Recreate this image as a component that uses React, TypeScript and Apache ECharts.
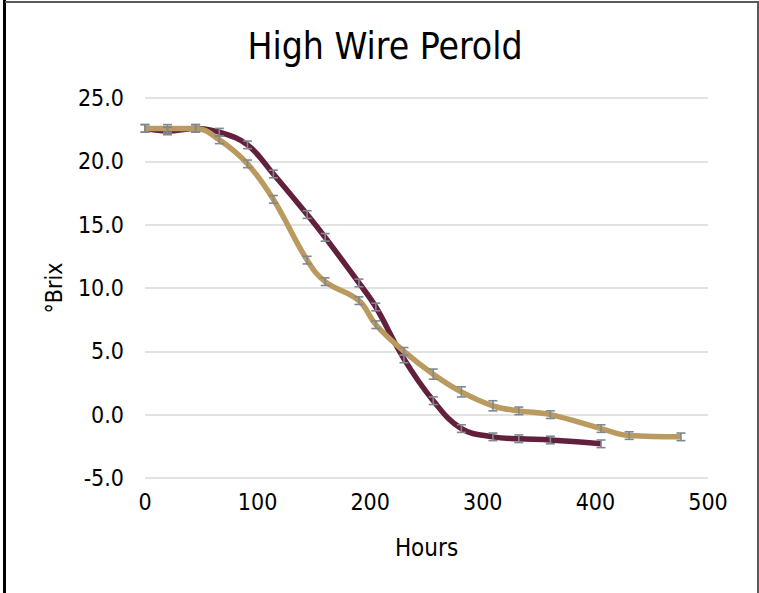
import React, { useEffect, useRef } from "react";
import * as echarts from "echarts";

const hoursA = [0, 20, 45, 66, 91, 114, 144, 160, 190, 205, 230, 256, 281, 309, 332, 360, 405];
const brixA = [22.6, 22.4, 22.6, 22.3, 21.3, 19.0, 15.8, 14.0, 10.4, 8.5, 4.4, 1.1, -1.1, -1.75, -1.9, -2.0, -2.3];
const errA = [0.3, 0.3, 0.3, 0.3, 0.3, 0.3, 0.3, 0.3, 0.3, 0.3, 0.3, 0.3, 0.3, 0.3, 0.3, 0.3, 0.3];

const hoursB = [0, 20, 45, 66, 91, 114, 144, 160, 190, 205, 230, 256, 281, 309, 332, 360, 405, 430, 476];
const brixB = [22.6, 22.6, 22.6, 21.7, 19.8, 17.0, 12.2, 10.5, 9.0, 7.1, 5.0, 3.2, 1.8, 0.7, 0.3, 0.0, -1.1, -1.65, -1.75];
const errB = [0.3, 0.3, 0.3, 0.3, 0.3, 0.3, 0.3, 0.3, 0.3, 0.3, 0.3, 0.4, 0.4, 0.4, 0.3, 0.3, 0.3, 0.3, 0.3];

const xTicks = [0, 500, 100];
const yTicks = [-5, 25, 5];

const titleText = "High Wire Perold";
const xName = "Hours";
const yName = "°Brix";
const seriesNames = ["Series A", "Series B"];
const colors = ["#62203C", "#BA9A5E"];
const errColor = "#7F8890";

export default function App() {
  const ref = useRef<HTMLDivElement>(null);
  useEffect(() => {
    document.body.style.margin = "0";
    const chart = echarts.init(ref.current!, null, { renderer: "svg" });
    const dataA = hoursA.map((h, i) => [h, brixA[i]]);
    const dataB = hoursB.map((h, i) => [h, brixB[i]]);
    const errDataA = hoursA.map((h, i) => [h, brixA[i] - errA[i], brixA[i] + errA[i]]);
    const errDataB = hoursB.map((h, i) => [h, brixB[i] - errB[i], brixB[i] + errB[i]]);
    const renderErr = (params: any, api: any) => {
      const x = api.value(0);
      const lo = api.coord([x, api.value(1)]);
      const hi = api.coord([x, api.value(2)]);
      const w = 4.5;
      const st = { stroke: errColor, lineWidth: 1.6 };
      return {
        type: "group",
        children: [
          { type: "line", shape: { x1: lo[0], y1: lo[1], x2: hi[0], y2: hi[1] }, style: st },
          { type: "line", shape: { x1: lo[0] - w, y1: lo[1], x2: lo[0] + w, y2: lo[1] }, style: st },
          { type: "line", shape: { x1: hi[0] - w, y1: hi[1], x2: hi[0] + w, y2: hi[1] }, style: st },
        ],
      };
    };
    const font = "'DejaVu Sans Condensed', 'DejaVu Sans', sans-serif";
    chart.setOption({
      animation: false,
      backgroundColor: "#ffffff",
      grid: { left: 145, right: 51, top: 98, bottom: 115 },
      xAxis: {
        type: "value",
        min: xTicks[0],
        max: xTicks[1],
        interval: xTicks[2],
        name: xName,
        nameLocation: "middle",
        nameGap: 58,
        nameMoveOverlap: false,
        nameTextStyle: { fontSize: 24, color: "#000", fontFamily: font },
        axisLine: { show: false },
        axisTick: { show: false },
        splitLine: { show: false },
        axisLabel: { fontSize: 23, color: "#000", fontFamily: font, margin: 12 },
      },
      yAxis: {
        type: "value",
        min: yTicks[0],
        max: yTicks[1],
        interval: yTicks[2],
        name: yName,
        nameLocation: "middle",
        nameGap: 80,
        nameMoveOverlap: false,
        nameRotate: 90,
        nameTextStyle: { fontSize: 23, color: "#000", fontFamily: font },
        axisLine: { show: false },
        axisTick: { show: false },
        splitLine: { lineStyle: { color: "#d9d9d9", width: 1.5 } },
        axisLabel: {
          fontSize: 23,
          color: "#000",
          fontFamily: font,
          margin: 21,
          formatter: (v: number) => v.toFixed(1),
        },
      },
      series: [
        {
          name: seriesNames[0],
          type: "line",
          data: dataA,
          smooth: 0.4,
          symbol: "none",
          lineStyle: { color: colors[0], width: 5.5 },
          z: 3,
        },
        {
          name: seriesNames[1],
          type: "line",
          data: dataB,
          smooth: 0.4,
          symbol: "none",
          lineStyle: { color: colors[1], width: 5.5 },
          z: 4,
        },
        { type: "custom", renderItem: renderErr, data: errDataA, z: 10, encode: { x: 0, y: [1, 2] } },
        { type: "custom", renderItem: renderErr, data: errDataB, z: 10, encode: { x: 0, y: [1, 2] } },
      ],
      graphic: [
        {
          type: "text",
          x: 385,
          y: 46,
          style: {
            text: titleText,
            fontSize: 37,
            fontFamily: font,
            fill: "#000",
            textAlign: "center",
            textVerticalAlign: "middle",
          },
        },
        { type: "rect", shape: { x: 3, y: 0, width: 3, height: 593 }, style: { fill: "#000" } },
        { type: "rect", shape: { x: 5, y: 1, width: 754, height: 2 }, style: { fill: "#595959" } },
        { type: "rect", shape: { x: 757, y: 1, width: 2, height: 592 }, style: { fill: "#595959" } },
      ],
    });
    return () => chart.dispose();
  }, []);
  return <div ref={ref} style={{ width: 759, height: 593 }} />;
}
